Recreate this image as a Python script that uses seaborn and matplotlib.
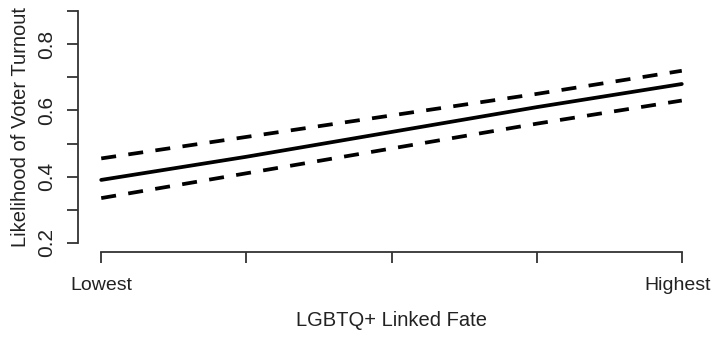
import matplotlib
matplotlib.use("Agg")
import matplotlib.pyplot as plt
import numpy as np
import pandas as pd
import seaborn as sns

# linked fate levels (5 steps, only ends labelled)
fate_level = [0, 1, 2, 3, 4]
tick_labels = ["Lowest", "", "", "", "Highest"]

# predicted turnout and 95% bounds
pred = [0.39, 0.46, 0.535, 0.61, 0.68]
upper = [0.455, 0.52, 0.585, 0.65, 0.72]
lower = [0.335, 0.41, 0.485, 0.56, 0.63]

y_ticks = [0.2, 0.3, 0.4, 0.5, 0.6, 0.7, 0.8, 0.9]
y_labels = ["0.2", "", "0.4", "", "0.6", "", "0.8", ""]

sns.set_style("white")
plt.rcParams["font.family"] = ["Liberation Sans", "DejaVu Sans"]

df = pd.DataFrame({"fate": fate_level, "pred": pred, "upper": upper, "lower": lower})

W, H = 714, 337
fig = plt.figure(figsize=(W / 100, H / 100), dpi=100)
ax = fig.add_axes([78 / W, (H - 252) / H, (705 - 78) / W, (252 - 2) / H])

sns.lineplot(data=df, x="fate", y="pred", ax=ax, color="black", lw=2.7)
for col in ["upper", "lower"]:
    sns.lineplot(data=df, x="fate", y=col, ax=ax, color="black", lw=2.7)
for line in ax.lines[1:]:
    line.set_dashes((4.0, 3.3))
    line.set_dash_capstyle("butt")

ax.set_xlim(-0.16, 4.16)
ax.set_ylim(0.172, 0.928)

for side in ["top", "right"]:
    ax.spines[side].set_visible(False)
ax.spines["left"].set_bounds(0.2, 0.9)
ax.spines["bottom"].set_bounds(0, 4)
for side in ["left", "bottom"]:
    ax.spines[side].set_color("#333333")
    ax.spines[side].set_linewidth(1.3)

ax.set_xticks(fate_level)
ax.set_xticklabels(tick_labels, fontsize=14)
ax.get_xticklabels()[-1].set_horizontalalignment("center")
ax.set_yticks(y_ticks)
ax.set_yticklabels(y_labels, fontsize=15, rotation=90, va="center")
ax.tick_params(axis="both", direction="out", length=8, width=1.3,
               color="#333333", labelcolor="#222222",
               bottom=True, left=True)
ax.tick_params(axis="y", pad=8)
ax.tick_params(axis="x", pad=10)
# nudge "Highest" a touch left so it stays inside the canvas
import matplotlib.transforms as mtransforms
ax.get_xticklabels()[-1].set_transform(
    ax.get_xticklabels()[-1].get_transform()
    + mtransforms.ScaledTranslation(-4 / 100, 0, fig.dpi_scale_trans))

ax.set_xlabel("LGBTQ+ Linked Fate", fontsize=14.5, color="#222222", labelpad=12)
ax.set_ylabel("Likelihood of Voter Turnout", fontsize=14.5, color="#222222",
              labelpad=5)

fig.savefig("out.png", dpi=100)
